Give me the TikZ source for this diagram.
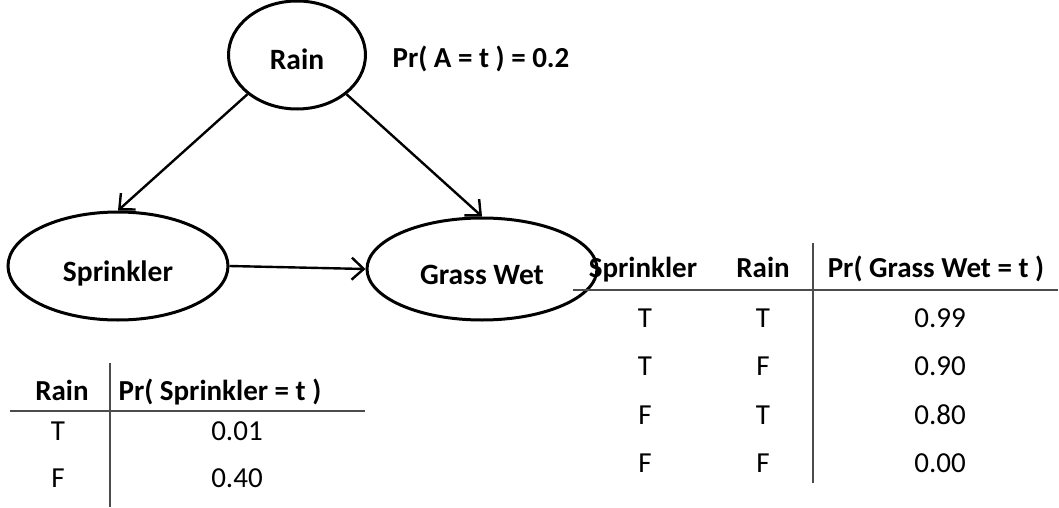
\documentclass[tikz,border=0pt]{standalone}
\usepackage{fontspec}
\setmainfont{Carlito}
\usetikzlibrary{shapes.geometric,arrows.meta}
\begin{document}
\begin{tikzpicture}[x=1pt,y=-1pt,
  line width=3pt,
  main node/.style={ellipse,draw,inner sep=0pt,text height=30pt,text depth=0pt,
    font=\bfseries\fontsize{29.5}{34}\selectfont},
  head/.style={anchor=base,inner sep=0pt,font=\bfseries\fontsize{29}{34}\selectfont},
  cell/.style={anchor=base,inner sep=0pt,font=\fontsize{29}{34}\selectfont},
  rule/.style={draw=black!70,line width=2pt}]

  \useasboundingbox (0,0) rectangle (1059,508);

  \node[main node,minimum width=137pt,minimum height=108pt] (rain) at (297,55) {Rain};
  \node[main node,minimum width=220pt,minimum height=108pt] (sprinkler) at (118,266) {Sprinkler};
  \node[main node,minimum width=230pt,minimum height=102pt] (grass) at (482,269) {Grass Wet};
  \node[head] (prior) at (481,68) {Pr( A = t ) = 0.2};

  \path[line width=2.4pt,-{Straight Barb[length=12pt,width=22pt]}]
   (rain.south west) edge (sprinkler.north)
   (rain.south east) edge (grass.north)
   (sprinkler.east) edge (grass.west);

  % table for sprinkler
  \node[head] (s rain) at (62,400) {Rain};
  \node[head] (s pr) at (220,400) {Pr( Sprinkler = t )};
  \node[cell] (s r1) at (58,440) {T};
  \node[cell] (s v1) at (237,440) {0.01};
  \node[cell] (s r2) at (58,487) {F};
  \node[cell] (s v2) at (237,487) {0.40};
  \draw[rule] (10,411) -- (365,411);
  \draw[rule] (110,363) -- (110,507);

  % table for grass wet
  \node[head] (g spr) at (643,277) {Sprinkler};
  \node[head] (g rain) at (763,277) {Rain};
  \node[head] (g pr) at (936,277) {Pr( Grass Wet = t )};
  \foreach \s/\r/\v [count=\i] in {T/T/0.99,T/F/0.90,F/T/0.80,F/F/0.00}{
    \node[cell] (g s\i) at (645,327+48.5*\i-48.5) {\s};
    \node[cell] (g r\i) at (763,327+48.5*\i-48.5) {\r};
    \node[cell] (g v\i) at (940,327+48.5*\i-48.5) {\v};
  }
  \draw[rule] (573,290) -- (1058,290);
  \draw[rule] (813,243) -- (813,483);
\end{tikzpicture}
\end{document}
